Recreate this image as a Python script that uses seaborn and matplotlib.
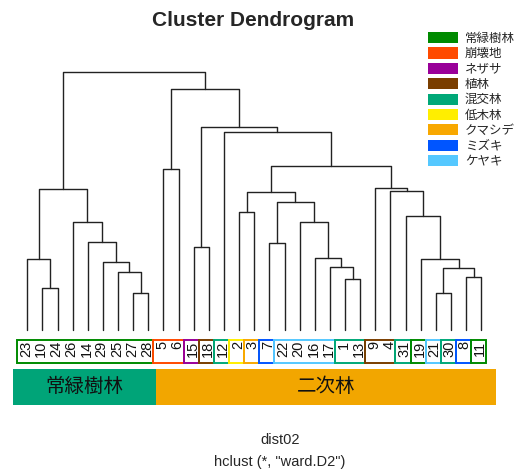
import numpy as np
import pandas as pd
import matplotlib
matplotlib.use("Agg")
import matplotlib.pyplot as plt
from matplotlib.patches import Rectangle, Patch
import seaborn as sns

# Leaves in dendrogram order and their vegetation type
leaf_labels = ["23", "10", "24", "26", "14", "29", "25", "27", "28",
               "5", "6", "15", "18", "12", "2", "3", "7", "22", "20", "16",
               "17", "1", "13", "9", "4", "31", "19", "21", "30", "8", "11"]
leaf_types = ["常緑樹林"] * 9 + [
    "崩壊地", "崩壊地", "ネザサ", "植林", "混交林", "低木林", "クマシデ", "ミズキ",
    "ケヤキ", "ケヤキ", "ケヤキ", "ケヤキ", "混交林", "混交林", "植林", "植林",
    "混交林", "常緑樹林", "ケヤキ", "混交林", "ミズキ", "常緑樹林"]

# Ward linkage merges: "#k" refers to the k-th merge
merge_left = ["10", "23", "27", "25", "29", "14", "26", "#1", "5", "15",
              "2", "7", "1", "17", "16", "20", "#11", "#10", "21", "8",
              "#18", "19", "31", "4", "9", "#17", "12", "#9", "#8", "#7"]
merge_right = ["24", "#0", "28", "#2", "#3", "#4", "#5", "#6", "6", "18",
               "3", "22", "13", "#12", "#13", "#14", "#15", "#16", "30", "11",
               "#19", "#20", "#21", "#22", "#23", "#24", "#25", "#26", "#27", "#28"]
merge_height = [4.23, 7.07, 3.73, 5.83, 6.83, 8.83, 10.83, 14.10, 16.10, 8.33,
                11.77, 8.67, 5.07, 6.33, 7.17, 10.83, 12.83, 13.77, 3.73, 5.27,
                6.23, 7.07, 11.43, 13.93, 14.17, 16.40, 19.85, 20.35, 24.07, 25.83]

# Legend categories
type_names = ["常緑樹林", "崩壊地", "ネザサ", "植林", "混交林",
              "低木林", "クマシデ", "ミズキ", "ケヤキ"]
type_colors = ["#008A00", "#FF4A00", "#990099", "#7A3E00", "#00A878",
               "#FFEE00", "#F8A800", "#0055FF", "#55C8FF"]

# Forest groups shown in the bar below the labels
group_names = ["常緑樹林", "二次林"]
group_sizes = [9, 22]
group_colors = ["#00A478", "#F2A600"]

sns.set_theme(style="white")
plt.rcParams["font.family"] = ["Liberation Sans", "Noto Sans CJK JP", "DejaVu Sans"]

# Node coordinates
xpos = {lab: float(i) for i, lab in enumerate(leaf_labels)}
hpos = {lab: 0.0 for lab in leaf_labels}
rows = []
for k, (a, b, h) in enumerate(zip(merge_left, merge_right, merge_height)):
    xa, xb = xpos[a], xpos[b]
    pts = [(xa, hpos[a]), (xa, h), (xb, h), (xb, hpos[b])]
    for order, (px, py) in enumerate(pts):
        rows.append({"seg": k, "order": order, "x": px, "h": py})
    xpos[f"#{k}"] = (xa + xb) / 2
    hpos[f"#{k}"] = h
segs = pd.DataFrame(rows)

fig = plt.figure(figsize=(5.23, 4.74), dpi=100)
ax = fig.add_axes([0.03767, 0.1139, 0.8969, 0.8017])

sns.lineplot(data=segs, x="x", y="h", units="seg", estimator=None, sort=False,
             color="#222222", linewidth=1.0, ax=ax, legend=False)

ax.set_xlim(-0.5, len(leaf_labels) - 0.5)
ax.set_ylim(-9, 29)
ax.axis("off")

color_of = dict(zip(type_names, type_colors))

# Leaf labels and coloured boxes around runs of the same type
box_top, box_bot = -1.0, -3.3
shift = -0.17
i = 0
n = len(leaf_labels)
while i < n:
    j = i
    while j + 1 < n and leaf_types[j + 1] == leaf_types[i]:
        j += 1
    ax.add_patch(Rectangle((i - 0.5 + shift, box_bot), (j - i + 1), box_top - box_bot,
                           fill=False, edgecolor=color_of[leaf_types[i]],
                           linewidth=1.4, clip_on=False))
    i = j + 1

for i, lab in enumerate(leaf_labels):
    ax.text(i + shift / 2, box_top - 0.1, lab, rotation=90, ha="center", va="top",
            fontsize=10.5, color="#111111")

# Group bar
bar_top, bar_bot = -3.9, -7.5
start = -0.5 + shift - 0.3
edges = [start]
acc = -0.5
for s in group_sizes:
    acc += s
    edges.append(acc)
edges[-1] = n - 0.5 + 0.45
for g, (name, col) in enumerate(zip(group_names, group_colors)):
    x0, x1 = edges[g], edges[g + 1]
    ax.add_patch(Rectangle((x0, bar_bot), x1 - x0, bar_top - bar_bot,
                           facecolor=col, edgecolor="none", clip_on=False))
    ax.text((x0 + x1) / 2, (bar_top + bar_bot) / 2, name, ha="center", va="center",
            fontsize=14, color="#111111")

handles = [Patch(facecolor=c, edgecolor="none") for c in type_colors]
fig.legend(handles, type_names, loc="upper left",
           bbox_to_anchor=(428 / 523, 1 - 32 / 474), frameon=False,
           fontsize=9, handlelength=2.4, handleheight=1.0, labelspacing=0.2,
           handletextpad=0.55, borderaxespad=0, borderpad=0)

fig.text(253 / 523, 1 - 20 / 474, "Cluster Dendrogram", ha="center", va="center",
         fontsize=15, fontweight="bold")
fig.text(280 / 523, 1 - 440 / 474, "dist02", ha="center", va="center", fontsize=10.5)
fig.text(280 / 523, 1 - 462 / 474, 'hclust (*, "ward.D2")', ha="center", va="center",
         fontsize=10.5)

fig.savefig("out.png", dpi=100)
